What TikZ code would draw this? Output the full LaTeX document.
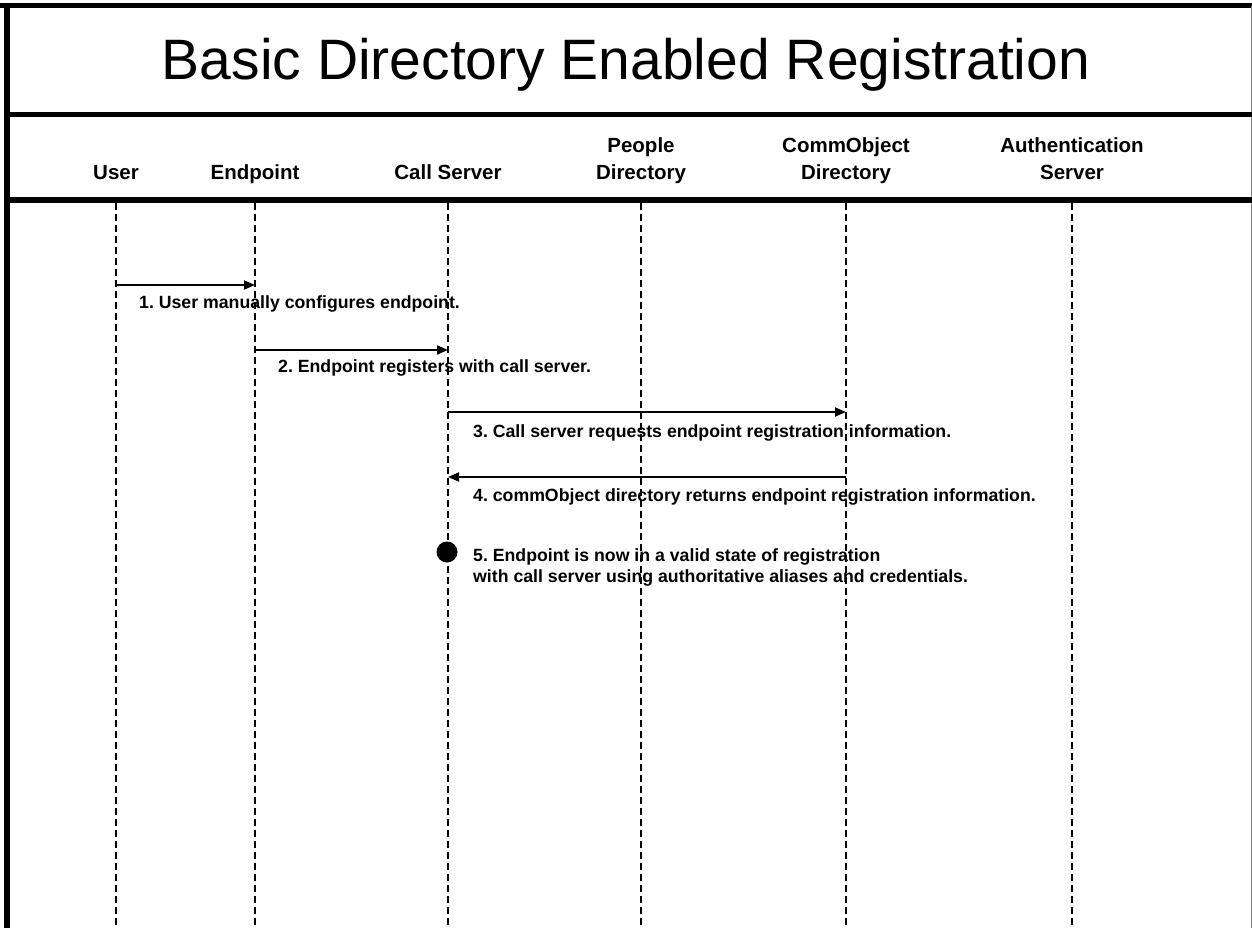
\documentclass[tikz,border=0pt]{standalone}
\usepackage{fontspec}
\setmainfont{Liberation Sans}
\frenchspacing
\usetikzlibrary{arrows.meta}
\begin{document}
\begin{tikzpicture}[x=1pt,y=-1pt,
  frame/.style={line width=5pt},
  lifeline/.style={line width=1.4pt, dash pattern=on 7pt off 4pt},
  msg/.style={line width=1.8pt, -{Triangle[length=11pt,width=9pt]}},
  head/.style={font=\fontsize{20.5}{27}\selectfont\bfseries, align=center, anchor=base},
  lbl/.style={font=\fontsize{17.7}{21}\selectfont\bfseries, anchor=west, inner sep=0pt, align=left},
  dot/.style={circle, fill=black, inner sep=0pt, minimum width=19pt, minimum height=21pt}]
\useasboundingbox (0,0) rectangle (1252,928);
\fill[white] (0,0) rectangle (1252,928);

% outer frame and band separators
\draw[frame] (0,6) -- (1252,6);
\draw[line width=6pt] (7,3.5) -- (7,928);
\draw[line width=0.8pt, gray] (1251,6) -- (1251,928);
\draw[frame] (7,114.5) -- (1252,114.5);
\draw[frame] (7,200) -- (1252,200);

% title
\node[font=\fontsize{57}{60}\selectfont, anchor=base] (title) at (626,80) {Basic Directory Enabled Registration};

% participant headers (last line on a common baseline)
\node[head] (hUser) at (116,179) {User};
\node[head] (hEnd) at (255,179) {Endpoint};
\node[head] (hCall) at (448,179) {Call Server};
\node[head] (hPeople) at (641,179) {People\\Directory};
\node[head] (hComm) at (846,179) {CommObject\\Directory};
\node[head] (hAuth) at (1072,179) {Authentication\\Server};

% lifelines
\foreach \n/\x in {u/116, e/255, c/448, p/641, o/846, a/1072} {
  \coordinate (\n top) at (\x,203);
  \coordinate (\n bot) at (\x,928);
  \draw[lifeline] (\n top) -- (\n bot);
}

% message end points
\coordinate (m1a) at (116,285);  \coordinate (m1b) at (255,285);
\coordinate (m2a) at (255,350);  \coordinate (m2b) at (448,350);
\coordinate (m3a) at (448,412);  \coordinate (m3b) at (846,412);
\coordinate (m4a) at (846,477);  \coordinate (m4b) at (448,477);

% messages
\draw[msg] (m1a) -- (m1b);
\node[lbl] (l1) at (139,304) {1. User manually configures endpoint.};
\draw[msg] (m2a) -- (m2b);
\node[lbl] (l2) at (278,368) {2. Endpoint registers with call server.};
\draw[msg] (m3a) -- (m3b);
\node[lbl] (l3) at (473,433) {3. Call server requests endpoint registration information.};
\draw[msg] (m4a) -- (m4b);
\node[lbl] (l4) at (473,497) {4. commObject directory returns endpoint registration information.};

% final state
\node[dot] (state) at (447,552) {};
\node[lbl] (l5) at (473,567.5) {5. Endpoint is now in a valid state of registration\\with call server using authoritative aliases and credentials.};
\end{tikzpicture}
\end{document}
